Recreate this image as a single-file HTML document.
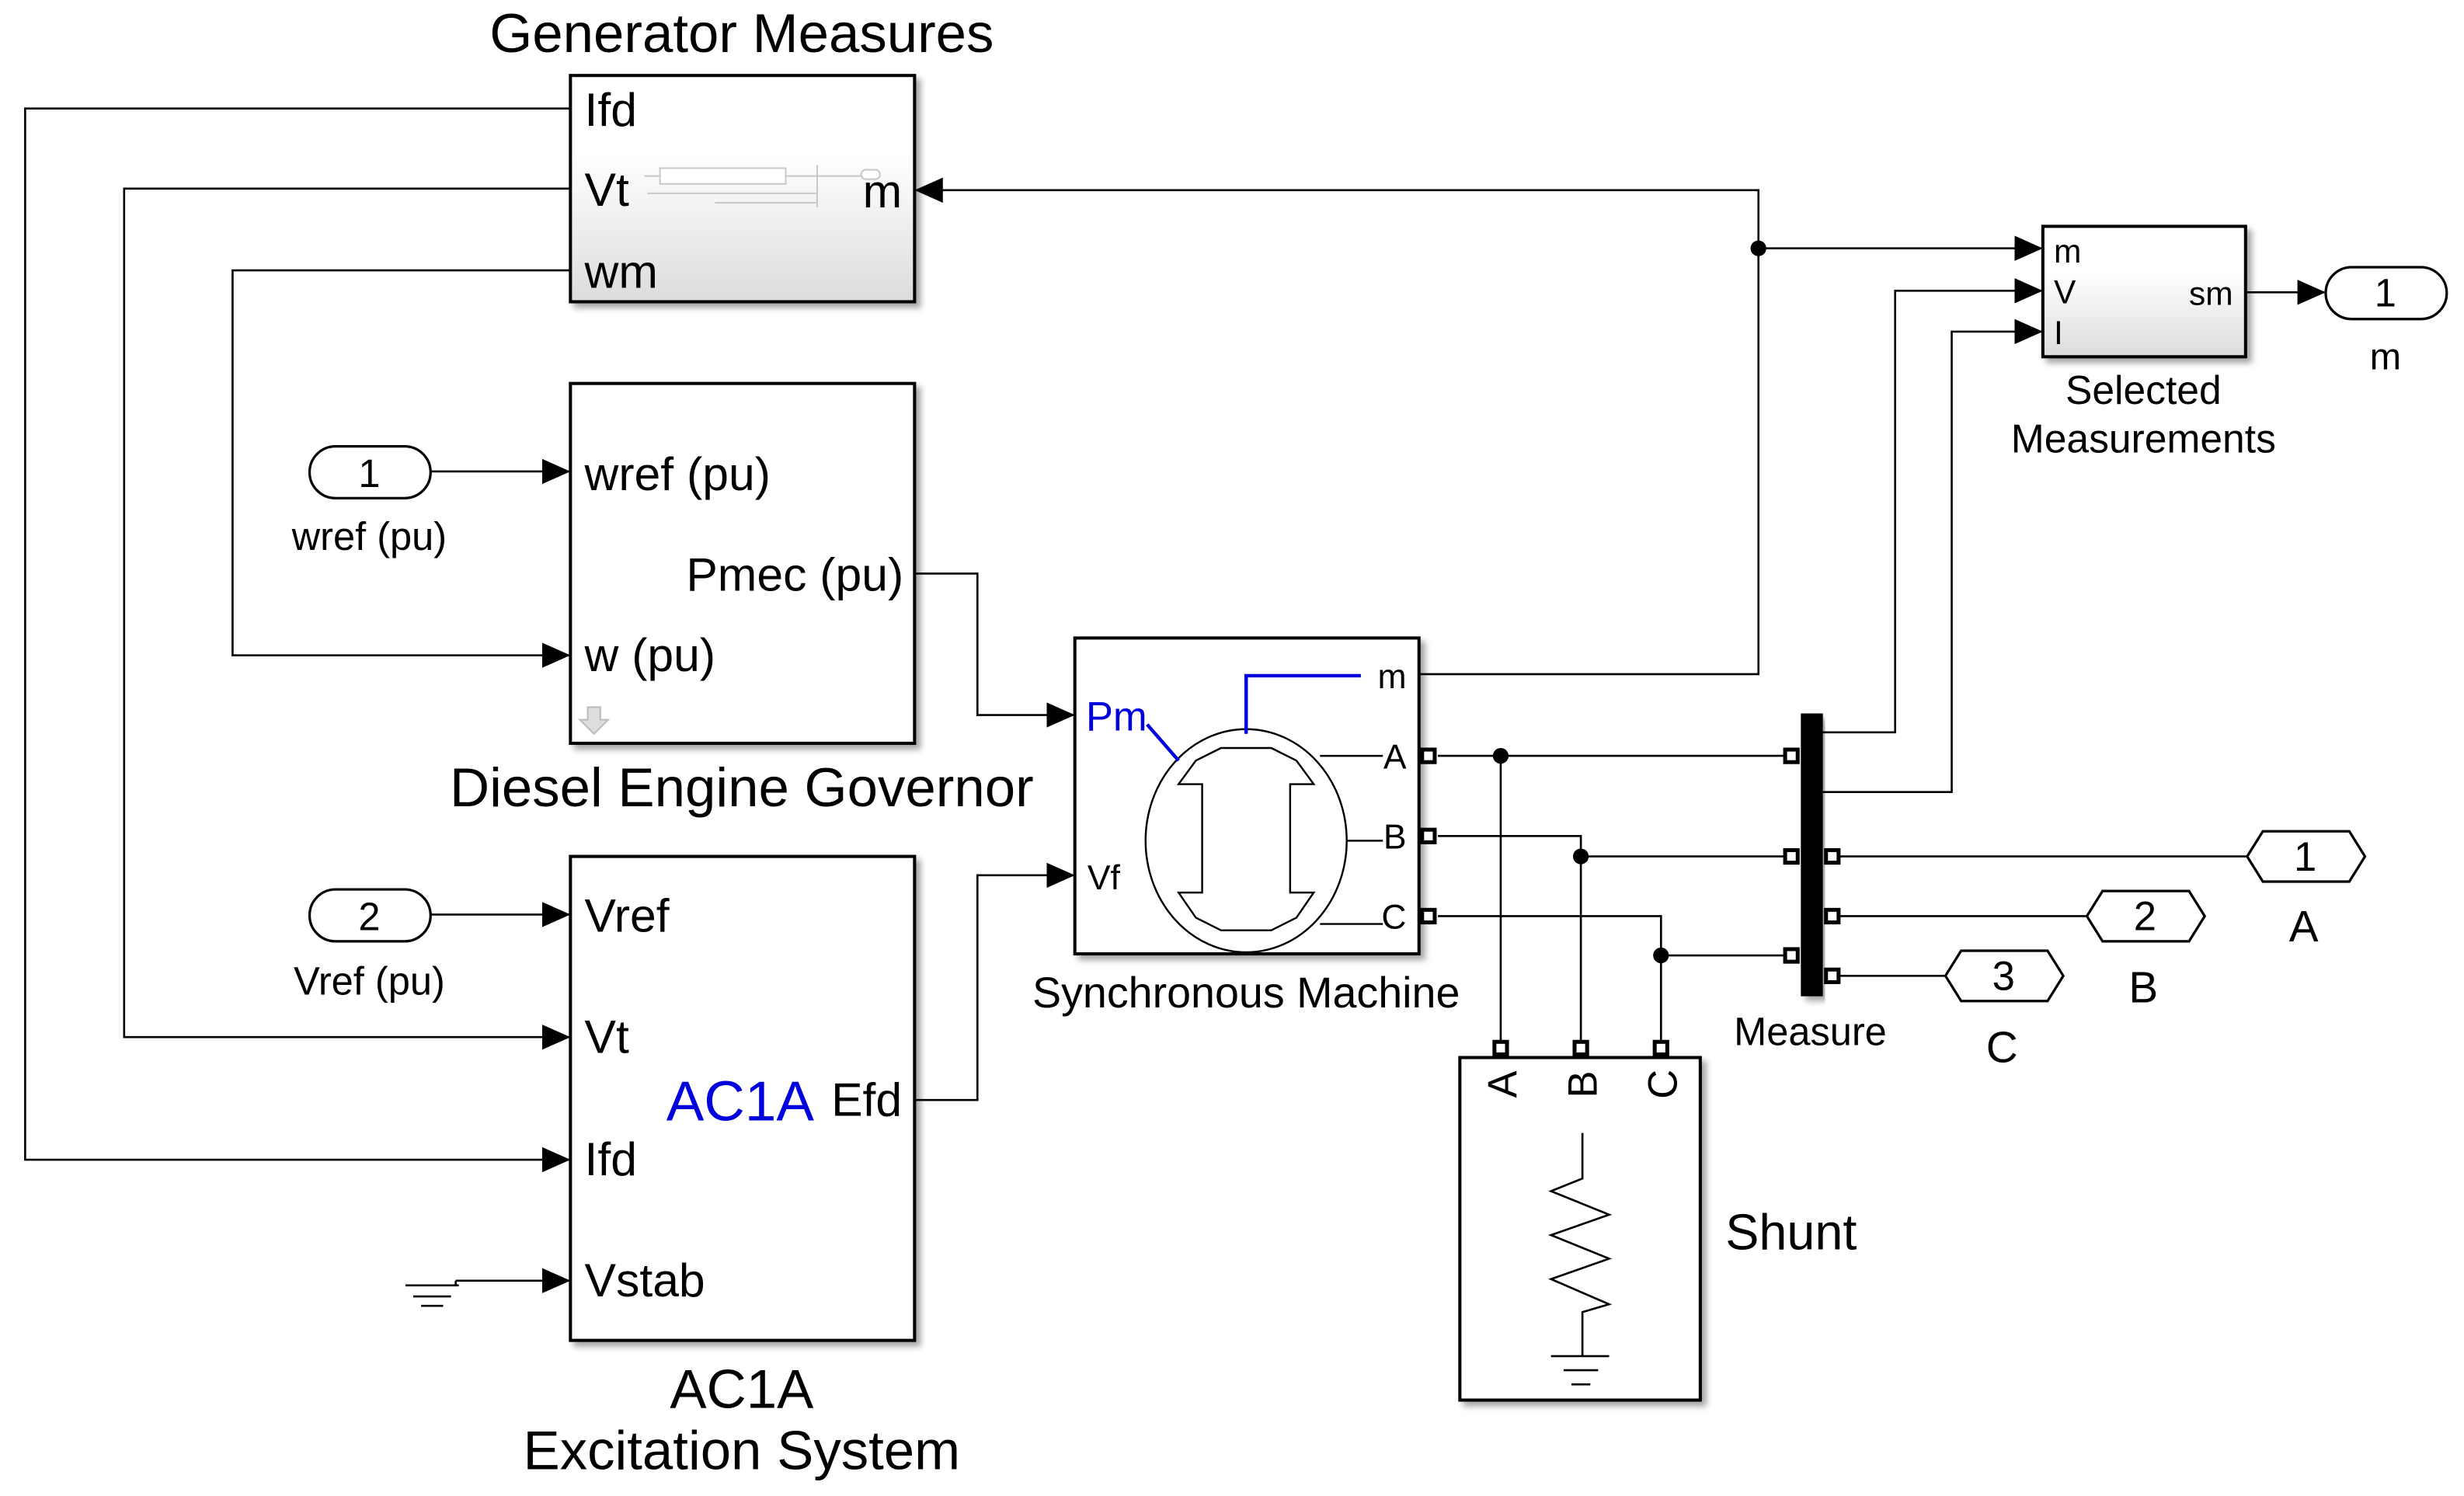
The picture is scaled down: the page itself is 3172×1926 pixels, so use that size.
<!DOCTYPE html>
<html><head><meta charset="utf-8"><style>
html,body{margin:0;padding:0;background:#fff;}
svg{display:block;}
text{font-family:"Liberation Sans",Arial,sans-serif;fill:#000;}
</style></head><body>
<svg width="3172" height="1926" viewBox="0 0 1568 952" xmlns="http://www.w3.org/2000/svg">
<defs>
<linearGradient id="g" x1="0" y1="0" x2="0" y2="1"><stop offset="0" stop-color="#fff"/><stop offset="0.35" stop-color="#fff"/><stop offset="1" stop-color="#dcdcdc"/></linearGradient>
<marker id="a" markerWidth="18" markerHeight="16" refX="17" refY="8" orient="auto" markerUnits="userSpaceOnUse"><path d="M0,0 L18,8 L0,16 z" fill="#000"/></marker>
<filter id="s" x="-5%" y="-5%" width="115%" height="115%"><feDropShadow dx="3" dy="3" stdDeviation="2" flood-color="#000" flood-opacity="0.35"/></filter>
</defs>
<g fill="none" stroke="#000" stroke-width="1.3">
<polyline points="363,69 16,69 16,738 362,738" marker-end="url(#a)"/>
<polyline points="363,120 79,120 79,660 362,660" marker-end="url(#a)"/>
<polyline points="363,172 148,172 148,417 362,417" marker-end="url(#a)"/>
<polyline points="274,300 362,300" marker-end="url(#a)"/>
<polyline points="274,582 362,582" marker-end="url(#a)"/>
<polyline points="290,815 362,815" marker-end="url(#a)"/>
<line x1="290" y1="815" x2="290" y2="818"/>
<line x1="258" y1="818" x2="292" y2="818"/><line x1="263" y1="825" x2="287" y2="825"/><line x1="268" y1="831" x2="282" y2="831"/>
<polyline points="582,365 622,365 622,455 683,455" marker-end="url(#a)"/>
<polyline points="582,700 622,700 622,557 683,557" marker-end="url(#a)"/>
<polyline points="903,429 1119,429 1119,121 583,121" marker-end="url(#a)"/>
<polyline points="1119,158 1299,158" marker-end="url(#a)"/>
<polyline points="1160,466 1206,466 1206,185 1299,185" marker-end="url(#a)"/>
<polyline points="1160,504 1242,504 1242,211 1299,211" marker-end="url(#a)"/>
<polyline points="1429,186 1479,186" marker-end="url(#a)"/>
<line x1="915" y1="481" x2="1140" y2="481"/>
<line x1="955" y1="481" x2="955" y2="667"/>
<polyline points="915,532 1006,532 1006,667"/>
<line x1="1006" y1="545" x2="1140" y2="545"/>
<polyline points="915,583 1057,583 1057,667"/>
<line x1="1057" y1="608" x2="1140" y2="608"/>
<line x1="1166" y1="545" x2="1430" y2="545"/>
<line x1="1166" y1="583" x2="1328" y2="583"/>
<line x1="1166" y1="621" x2="1238" y2="621"/>
</g>
<g fill="#000"><circle cx="1119" cy="158" r="5"/><circle cx="955" cy="481" r="5"/><circle cx="1006" cy="545" r="5"/><circle cx="1057" cy="608" r="5"/></g>

<!-- Generator Measures -->
<text x="472" y="33" font-size="35" text-anchor="middle">Generator Measures</text>
<rect x="363" y="48" width="219" height="144" fill="url(#g)" stroke="#000" stroke-width="2" filter="url(#s)"/>
<g fill="none" stroke="#c8c8c8" stroke-width="1">
<line x1="410" y1="112" x2="550" y2="112"/><rect x="420" y="107" width="80" height="10" fill="#fff"/>
<line x1="412" y1="123" x2="520" y2="123"/><line x1="455" y1="129" x2="520" y2="129"/><line x1="520" y1="105" x2="520" y2="132"/>
<rect x="548" y="108" width="12" height="6" rx="3" fill="#fff"/>
</g>
<text x="372" y="80" font-size="30">Ifd</text>
<text x="372" y="131" font-size="30">Vt</text>
<text x="372" y="183" font-size="30">wm</text>
<text x="574" y="132" font-size="30" text-anchor="end">m</text>

<!-- Governor -->
<rect x="363" y="244" width="219" height="229" fill="#fff" stroke="#000" stroke-width="2" filter="url(#s)"/>
<text x="372" y="312" font-size="30">wref (pu)</text>
<text x="575" y="376" font-size="30" text-anchor="end">Pmec (pu)</text>
<text x="372" y="427" font-size="30">w (pu)</text>
<path d="M374,450 h8 v8 h5 l-9,9 l-9,-9 h5 z" fill="#ddd" stroke="#bbb" stroke-width="1"/>
<text x="472" y="513" font-size="35" text-anchor="middle">Diesel Engine Governor</text>

<!-- AC1A -->
<rect x="363" y="545" width="219" height="308" fill="#fff" stroke="#000" stroke-width="2" filter="url(#s)"/>
<text x="372" y="593" font-size="30">Vref</text>
<text x="372" y="670" font-size="30">Vt</text>
<text x="372" y="748" font-size="30">Ifd</text>
<text x="372" y="825" font-size="30">Vstab</text>
<text x="574" y="710" font-size="30" text-anchor="end">Efd</text>
<text x="471" y="713" font-size="36" text-anchor="middle" style="fill:#0000dd">AC1A</text>
<text x="472" y="896" font-size="35" text-anchor="middle">AC1A</text>
<text x="472" y="935" font-size="35" text-anchor="middle">Excitation System</text>

<!-- inports -->
<rect x="197" y="284" width="77" height="33" rx="16.5" fill="#fff" stroke="#000" stroke-width="1.6"/>
<text x="235" y="310" font-size="25" text-anchor="middle">1</text>
<text x="235" y="350" font-size="25" text-anchor="middle">wref (pu)</text>
<rect x="197" y="566" width="77" height="33" rx="16.5" fill="#fff" stroke="#000" stroke-width="1.6"/>
<text x="235" y="592" font-size="25" text-anchor="middle">2</text>
<text x="235" y="633" font-size="25" text-anchor="middle">Vref (pu)</text>

<!-- Sync machine -->
<rect x="684" y="406" width="219" height="201" fill="#fff" stroke="#000" stroke-width="2" filter="url(#s)"/>
<ellipse cx="793" cy="535" rx="64" ry="71" fill="none" stroke="#000" stroke-width="1.2"/>
<path d="M777,476 L809,476 L825,484 L836,499 L821,499 L821,568 L836,568 L825,584 L809,592 L777,592 L761,584 L750,568 L765,568 L765,499 L750,499 L761,484 Z" fill="none" stroke="#000" stroke-width="1.2"/>
<g stroke="#000" stroke-width="1.2"><line x1="840" y1="481" x2="880" y2="481"/><line x1="857" y1="535" x2="880" y2="535"/><line x1="840" y1="588" x2="880" y2="588"/></g>
<polyline points="730,461 750,484" fill="none" stroke="#0000dd" stroke-width="2.2"/>
<polyline points="793,467 793,430 866,430" fill="none" stroke="#0000dd" stroke-width="2.2"/>
<text x="691" y="465" font-size="26" style="fill:#0000dd">Pm</text>
<text x="692" y="566" font-size="22">Vf</text>
<text x="895" y="438" font-size="22" text-anchor="end">m</text>
<text x="895" y="489" font-size="22" text-anchor="end">A</text>
<text x="895" y="540" font-size="22" text-anchor="end">B</text>
<text x="895" y="591" font-size="22" text-anchor="end">C</text>
<g fill="#fff" stroke="#000" stroke-width="2.5">
<rect x="905" y="477" width="8" height="8"/><rect x="905" y="528" width="8" height="8"/><rect x="905" y="579" width="8" height="8"/>
<rect x="1136" y="477" width="8" height="8"/><rect x="1136" y="541" width="8" height="8"/><rect x="1136" y="604" width="8" height="8"/>
<rect x="1162" y="541" width="8" height="8"/><rect x="1162" y="579" width="8" height="8"/><rect x="1162" y="617" width="8" height="8"/>
<rect x="951" y="663" width="8" height="8"/><rect x="1002" y="663" width="8" height="8"/><rect x="1053" y="663" width="8" height="8"/>
</g>
<text x="793" y="641" font-size="27.5" text-anchor="middle">Synchronous Machine</text>

<!-- Measure -->
<rect x="1146" y="454" width="14" height="180" fill="#000" filter="url(#s)"/>
<text x="1152" y="665" font-size="25" text-anchor="middle">Measure</text>

<!-- Selected -->
<rect x="1300" y="144" width="129" height="83" fill="url(#g)" stroke="#000" stroke-width="2" filter="url(#s)"/>
<text x="1307" y="167" font-size="21">m</text>
<text x="1307" y="193" font-size="21">V</text>
<text x="1307" y="219" font-size="21">I</text>
<text x="1421" y="194" font-size="21" text-anchor="end">sm</text>
<text x="1364" y="257" font-size="25.5" text-anchor="middle">Selected</text>
<text x="1364" y="288" font-size="25.5" text-anchor="middle">Measurements</text>
<rect x="1480" y="170" width="77" height="33" rx="16.5" fill="#fff" stroke="#000" stroke-width="1.6"/>
<text x="1518" y="195" font-size="25" text-anchor="middle">1</text>
<text x="1518" y="235" font-size="24" text-anchor="middle">m</text>

<!-- Goto tags -->
<g fill="#fff" stroke="#000" stroke-width="1.6">
<polygon points="1430,545 1440,529 1495,529 1505,545 1495,561 1440,561"/>
<polygon points="1328,583 1338,567 1393,567 1403,583 1393,599 1338,599"/>
<polygon points="1238,621 1248,605 1303,605 1313,621 1303,637 1248,637"/>
</g>
<text x="1467" y="554" font-size="26" text-anchor="middle">1</text>
<text x="1365" y="592" font-size="26" text-anchor="middle">2</text>
<text x="1275" y="630" font-size="26" text-anchor="middle">3</text>
<text x="1466" y="599" font-size="28" text-anchor="middle">A</text>
<text x="1364" y="638" font-size="28" text-anchor="middle">B</text>
<text x="1274" y="676" font-size="28" text-anchor="middle">C</text>

<!-- Shunt -->
<rect x="929" y="673" width="153" height="218" fill="#fff" stroke="#000" stroke-width="2" filter="url(#s)"/>
<g font-size="26" text-anchor="middle">
<text transform="translate(965,690) rotate(-90)">A</text>
<text transform="translate(1016,690) rotate(-90)">B</text>
<text transform="translate(1067,690) rotate(-90)">C</text>
</g>
<polyline points="1007,721 1007,750 987,758 1024,773 987,786 1024,801 987,814 1024,830 1007,835 1007,863" fill="none" stroke="#000" stroke-width="1.3"/>
<g stroke="#000" stroke-width="1.3"><line x1="987" y1="863" x2="1024" y2="863"/><line x1="995" y1="872" x2="1017" y2="872"/><line x1="1000" y1="881" x2="1012" y2="881"/></g>
<text x="1098" y="795" font-size="32">Shunt</text>
</svg>
</body></html>
